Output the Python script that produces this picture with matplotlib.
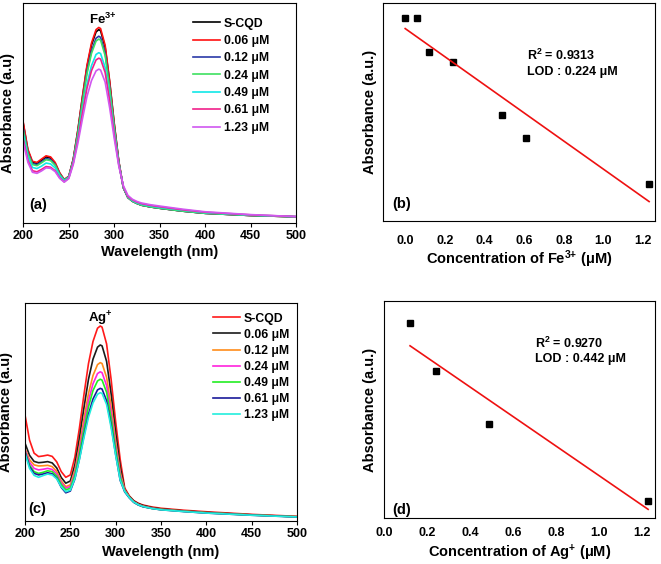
import numpy as np
import matplotlib
matplotlib.use("Agg")
import matplotlib.pyplot as plt

plt.rcParams['font.family'] = ['Liberation Sans', 'DejaVu Sans']
plt.rcParams['font.weight'] = 'bold'
plt.rcParams['axes.labelweight'] = 'bold'
plt.rcParams['mathtext.fontset'] = 'custom'
plt.rcParams['mathtext.rm'] = 'Liberation Sans:bold'
plt.rcParams['mathtext.bf'] = 'Liberation Sans:bold'
plt.rcParams['mathtext.default'] = 'bf'

# wavelength grid (nm)
wl = [200, 205, 210, 215, 220, 225, 230, 235, 240, 245, 250, 255, 260, 265, 270, 275,
      280, 283, 285, 290, 295, 300, 305, 310, 315, 320, 325, 330, 340, 350, 375, 400, 450, 500]

# (a) Fe3+ titration spectra
fe_labels = ['S-CQD', '0.06 μM', '0.12 μM', '0.24 μM', '0.49 μM', '0.61 μM', '1.23 μM']
fe_colors = ['black', '#ff1010', '#2b3aa8', '#3ee060', '#10e8e8', '#f0208a', '#d058f0']
fe_scqd = [0.45, 0.33, 0.275, 0.27, 0.285, 0.30, 0.295, 0.27, 0.225, 0.195, 0.21,
           0.29, 0.42, 0.57, 0.71, 0.81, 0.87, 0.88, 0.875, 0.80, 0.64, 0.45, 0.28,
           0.16, 0.115, 0.098, 0.088, 0.080, 0.072, 0.066, 0.053, 0.043, 0.033, 0.027]
fe_006 = [0.455, 0.335, 0.28, 0.275, 0.29, 0.305, 0.30, 0.275, 0.228, 0.197, 0.212,
          0.291, 0.423, 0.575, 0.717, 0.819, 0.880, 0.890, 0.885, 0.809, 0.646, 0.454, 0.281,
          0.16, 0.115, 0.098, 0.088, 0.080, 0.072, 0.066, 0.053, 0.043, 0.033, 0.027]
fe_012 = [0.43, 0.32, 0.27, 0.265, 0.278, 0.292, 0.288, 0.265, 0.222, 0.195, 0.21,
          0.286, 0.410, 0.554, 0.688, 0.783, 0.841, 0.850, 0.845, 0.774, 0.621, 0.439, 0.276,
          0.16, 0.115, 0.098, 0.088, 0.080, 0.072, 0.066, 0.053, 0.043, 0.033, 0.027]
fe_024 = [0.42, 0.315, 0.265, 0.26, 0.273, 0.287, 0.283, 0.262, 0.22, 0.194, 0.209,
          0.284, 0.406, 0.547, 0.678, 0.772, 0.828, 0.837, 0.832, 0.762, 0.612, 0.434, 0.275,
          0.16, 0.115, 0.098, 0.088, 0.080, 0.072, 0.066, 0.053, 0.043, 0.033, 0.027]
fe_049 = [0.40, 0.30, 0.252, 0.247, 0.258, 0.272, 0.268, 0.25, 0.213, 0.19, 0.206,
          0.276, 0.386, 0.513, 0.631, 0.716, 0.767, 0.775, 0.771, 0.708, 0.572, 0.412, 0.268,
          0.163, 0.118, 0.101, 0.091, 0.084, 0.076, 0.070, 0.057, 0.046, 0.035, 0.028]
fe_061 = [0.38, 0.285, 0.237, 0.232, 0.243, 0.256, 0.253, 0.237, 0.205, 0.186, 0.203,
          0.273, 0.378, 0.499, 0.613, 0.693, 0.742, 0.750, 0.746, 0.685, 0.556, 0.402, 0.265,
          0.165, 0.12, 0.104, 0.094, 0.087, 0.079, 0.073, 0.059, 0.048, 0.036, 0.028]
fe_123 = [0.365, 0.275, 0.23, 0.225, 0.236, 0.25, 0.248, 0.233, 0.202, 0.185, 0.201,
          0.266, 0.362, 0.472, 0.575, 0.648, 0.692, 0.700, 0.696, 0.641, 0.523, 0.384, 0.259,
          0.17, 0.125, 0.107, 0.097, 0.090, 0.082, 0.076, 0.062, 0.050, 0.037, 0.028]

# (c) Ag+ titration spectra
ag_labels = ['S-CQD', '0.06 μM', '0.12 μM', '0.24 μM', '0.49 μM', '0.61 μM', '1.23 μM']
ag_colors = ['#ff1a1a', '#1a1a1a', '#ff8c1a', '#ff22dd', '#22ee22', '#1a1a99', '#22eedd']
ag_scqd = [0.485, 0.37, 0.31, 0.294, 0.297, 0.301, 0.295, 0.27, 0.225, 0.199, 0.21,
           0.291, 0.424, 0.577, 0.72, 0.822, 0.883, 0.893, 0.888, 0.811, 0.648, 0.454, 0.281,
           0.15, 0.114, 0.092, 0.080, 0.072, 0.063, 0.057, 0.048, 0.041, 0.029, 0.02]
ag_006 = [0.356, 0.30, 0.272, 0.266, 0.268, 0.271, 0.265, 0.242, 0.198, 0.172, 0.182,
          0.256, 0.377, 0.517, 0.648, 0.741, 0.796, 0.806, 0.802, 0.731, 0.582, 0.405, 0.247,
          0.143, 0.112, 0.09, 0.078, 0.07, 0.06, 0.054, 0.045, 0.038, 0.027, 0.018]
ag_012 = [0.33, 0.28, 0.256, 0.251, 0.252, 0.254, 0.248, 0.226, 0.182, 0.156, 0.165,
          0.231, 0.34, 0.466, 0.583, 0.666, 0.716, 0.725, 0.721, 0.658, 0.524, 0.365, 0.223,
          0.14, 0.11, 0.087, 0.075, 0.067, 0.058, 0.052, 0.044, 0.037, 0.026, 0.018]
ag_024 = [0.325, 0.268, 0.24, 0.233, 0.236, 0.24, 0.235, 0.215, 0.174, 0.149, 0.157,
          0.219, 0.322, 0.44, 0.55, 0.628, 0.675, 0.683, 0.679, 0.62, 0.495, 0.346, 0.212,
          0.138, 0.108, 0.086, 0.074, 0.066, 0.057, 0.051, 0.043, 0.036, 0.026, 0.018]
ag_049 = [0.318, 0.255, 0.225, 0.217, 0.222, 0.229, 0.225, 0.205, 0.166, 0.141, 0.149,
          0.208, 0.306, 0.417, 0.522, 0.597, 0.641, 0.649, 0.645, 0.589, 0.470, 0.328, 0.201,
          0.136, 0.107, 0.085, 0.073, 0.065, 0.056, 0.051, 0.043, 0.036, 0.026, 0.018]
ag_061 = [0.315, 0.248, 0.217, 0.21, 0.214, 0.22, 0.215, 0.195, 0.153, 0.128, 0.136,
          0.191, 0.283, 0.389, 0.487, 0.558, 0.600, 0.607, 0.604, 0.550, 0.438, 0.304, 0.185,
          0.132, 0.105, 0.084, 0.072, 0.064, 0.056, 0.05, 0.042, 0.035, 0.025, 0.017]
ag_123 = [0.31, 0.24, 0.208, 0.199, 0.207, 0.214, 0.21, 0.192, 0.156, 0.133, 0.14,
          0.193, 0.28, 0.38, 0.474, 0.54, 0.58, 0.587, 0.584, 0.533, 0.427, 0.3, 0.187,
          0.134, 0.106, 0.085, 0.073, 0.065, 0.056, 0.05, 0.042, 0.035, 0.025, 0.017]

# (b) and (d) peak absorbance vs concentration
fe_conc = [0.0, 0.06, 0.12, 0.24, 0.49, 0.61, 1.23]
fe_abs = [0.931, 0.931, 0.774, 0.730, 0.489, 0.383, 0.172]
ag_conc = [0.12, 0.24, 0.49, 1.23]
ag_abs = [0.897, 0.675, 0.435, 0.081]

fig = plt.figure(figsize=(6.61, 5.64), dpi=100)
ax_a = fig.add_axes([0.0353, 0.6051, 0.4125, 0.389])
ax_b = fig.add_axes([0.580, 0.6082, 0.411, 0.386])
ax_c = fig.add_axes([0.0378, 0.0768, 0.4115, 0.3865])
ax_d = fig.add_axes([0.5814, 0.0810, 0.4095, 0.3858])


def spectra_panel(ax, series, labels, colors, ion, ion_x, ion_y, tag, tag_xy,
                  leg_xy, leg_sp, ylab_x, xlab_y):
    for ys, lab, c in zip(series, labels, colors):
        ax.plot(wl, ys, color=c, lw=1.2, label=lab)
    ax.set_xlim(200, 500)
    ax.set_ylim(0, 1)
    ax.set_xticks([200, 250, 300, 350, 400, 450, 500])
    ax.set_yticks([])
    ax.tick_params(axis='x', direction='out', length=3, labelsize=9, pad=2)
    ax.set_xlabel('Wavelength (nm)', fontsize=10.5)
    ax.xaxis.set_label_coords(0.5, xlab_y)
    ax.set_ylabel('Absorbance (a.u)', fontsize=10.5)
    ax.yaxis.set_label_coords(ylab_x, 0.5)
    ax.text(ion_x, ion_y, ion, fontsize=9.5, ha='center', va='center')
    ax.text(tag_xy[0], tag_xy[1], tag, transform=ax.transAxes, fontsize=10.5,
            ha='center', va='center')
    ax.legend(loc='upper left', bbox_to_anchor=leg_xy, frameon=False, fontsize=8.8,
              handlelength=2.2, handletextpad=0.35, labelspacing=leg_sp,
              borderpad=0, borderaxespad=0)


def fit_panel(ax, x, y, xlim, xlab, r2, lod, txt_xy, tag, tag_xy, tpad, ylab_x, xlab_y):
    ax.plot(x, y, 's', color='black', ms=4.2)
    k, b = np.polyfit(x, y, 1)
    xf = np.array([x[0], x[-1]])
    ax.plot(xf, k * xf + b, color='#ee1111', lw=1.2)
    ax.set_xlim(*xlim)
    ax.set_ylim(0, 1)
    ax.set_xticks([0.0, 0.2, 0.4, 0.6, 0.8, 1.0, 1.2])
    ax.set_yticks([])
    ax.tick_params(axis='x', direction='out', length=0, labelsize=9, pad=tpad)
    ax.set_xlabel(xlab, fontsize=10.5)
    ax.xaxis.set_label_coords(0.5, xlab_y)
    ax.set_ylabel('Absorbance (a.u.)', fontsize=10.5)
    ax.yaxis.set_label_coords(ylab_x, 0.5)
    ax.text(txt_xy[0], txt_xy[1], r2, transform=ax.transAxes, fontsize=9,
            ha='left', va='center')
    ax.text(txt_xy[0], txt_xy[1] - 0.076, lod, transform=ax.transAxes, fontsize=9,
            ha='left', va='center')
    ax.text(tag_xy[0], tag_xy[1], tag, transform=ax.transAxes, fontsize=10.5,
            ha='center', va='center')


spectra_panel(ax_a, [fe_scqd, fe_006, fe_012, fe_024, fe_049, fe_061, fe_123],
              fe_labels, fe_colors, r'Fe$^{3{+}}$', 287, 0.925, '(a)', (0.055, 0.08),
              (0.622, 0.935), 0.44, -0.03, -0.10)
spectra_panel(ax_c, [ag_scqd, ag_006, ag_012, ag_024, ag_049, ag_061, ag_123],
              ag_labels, ag_colors, r'Ag$^{{+}}$', 283, 0.928, '(c)', (0.045, 0.052),
              (0.691, 0.955), 0.34, -0.044, -0.111)

fit_panel(ax_b, fe_conc, fe_abs, (-0.11, 1.26), r'Concentration of Fe$^{3{+}}$ (μM)',
          r'R$^{2}$ = 0.9313', 'LOD : 0.224 μM', (0.528, 0.761), '(b)', (0.068, 0.078),
          10, -0.022, -0.125)
fit_panel(ax_d, ag_conc, ag_abs, (0.0, 1.262), r'Concentration of Ag$^{{+}}$ (μM)',
          r'R$^{2}$ = 0.9270', 'LOD : 0.442 μM', (0.556, 0.806), '(d)', (0.064, 0.04),
          6.5, -0.028, -0.112)

fig.savefig('out.png', dpi=100)
